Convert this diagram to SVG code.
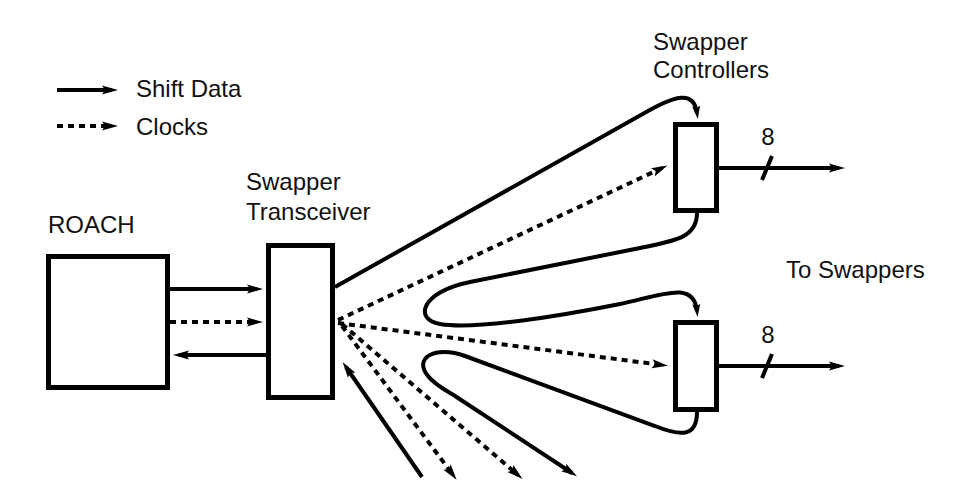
<svg xmlns="http://www.w3.org/2000/svg" width="971" height="503" viewBox="0 0 971 503">
<defs>
<marker id="ah" markerUnits="userSpaceOnUse" markerWidth="20" markerHeight="12" viewBox="0 -6 18 12" refX="10" refY="0" orient="auto" overflow="visible">
<path d="M0,-4.5 L16,0 L0,4.5 L3,0 z" fill="#000"/>
</marker>
<marker id="ahs" markerUnits="userSpaceOnUse" markerWidth="16" markerHeight="12" viewBox="0 -6 16 12" refX="7" refY="0" orient="auto" overflow="visible">
<path d="M0,-4 L13,0 L0,4 L2.5,0 z" fill="#000"/>
</marker>
</defs>
<style>
text{font-family:"Liberation Sans",Arial,sans-serif;font-size:24px;fill:#111}
.box{fill:#fff;stroke:#000;stroke-width:5}
.w{fill:none;stroke:#000;stroke-width:4}
.d{fill:none;stroke:#000;stroke-width:4;stroke-dasharray:6 5}
.a{marker-end:url(#ah)}
.s{marker-end:url(#ahs)}
</style>
<rect width="971" height="503" fill="#fff"/>
<g id="legend">
<line class="w a" x1="57" y1="90" x2="112" y2="90"/>
<line class="d a" x1="57" y1="126" x2="112" y2="126"/>
<text x="136" y="97">Shift Data</text>
<text x="136" y="135">Clocks</text>
</g>
<g id="roach">
<rect class="box" x="48.5" y="256.5" width="119" height="131"/>
<text x="48" y="233">ROACH</text>
</g>
<g id="transceiver">
<rect class="box" x="268.5" y="245.5" width="64" height="152"/>
<text x="246" y="190">Swapper</text>
<text x="246" y="220">Transceiver</text>
</g>
<g id="controller1">
<rect class="box" x="675.5" y="124.5" width="41" height="86"/>
</g>
<g id="controller2">
<rect class="box" x="675.5" y="322.5" width="41" height="87"/>
</g>
<g id="labels">
<text x="653" y="50">Swapper</text>
<text x="653" y="78">Controllers</text>
<text x="786" y="278">To Swappers</text>
<text x="768" y="145" text-anchor="middle">8</text>
<text x="768" y="343" text-anchor="middle">8</text>
</g>
<g id="connectors">
<line class="w a" x1="170" y1="289" x2="257" y2="289"/>
<line class="d a" x1="170" y1="322" x2="257" y2="322"/>
<line class="w a" x1="266" y1="355" x2="179" y2="355"/>
<path class="w s" d="M335,287 L648,111 C675,96 694,90 697,113"/>
<line class="d a" x1="338" y1="320" x2="662" y2="168"/>
<line class="d a" x1="338" y1="323" x2="662" y2="365"/>
<path class="w s" d="M697,213 C697,238 675,241 635,249 L470,282 C420,292 414,320 440,324 C475,330 560,316 620,304 C662,295 694,280 697,311"/>
<path class="w a" d="M697,412 C697,438 680,436 655,426 L465,356 C435,345 413,358 428,376 C434,384 445,390 455,396 L572,473"/>
<line class="w a" x1="422" y1="477" x2="346" y2="367"/>
<line class="d a" x1="342" y1="326" x2="453" y2="475"/>
<line class="d a" x1="342" y1="324" x2="518" y2="475"/>
<line class="w a" x1="719" y1="168" x2="839" y2="168"/>
<line class="w a" x1="719" y1="366" x2="839" y2="366"/>
<line class="w" x1="762" y1="180" x2="772" y2="156"/>
<line class="w" x1="762" y1="378" x2="772" y2="354"/>
</g>
</svg>
